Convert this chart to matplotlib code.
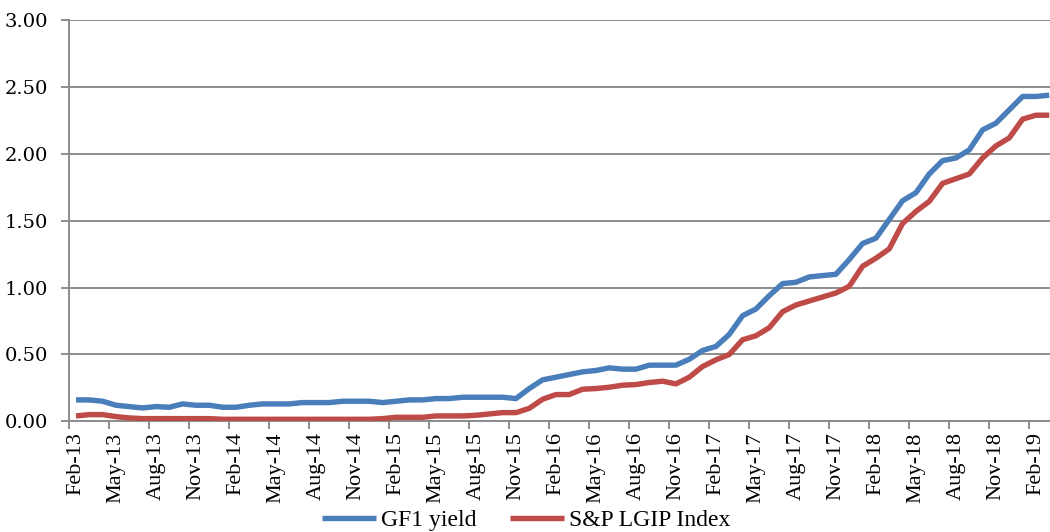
import matplotlib
matplotlib.use("Agg")
import matplotlib.pyplot as plt
import numpy as np
import pandas as pd

# Monthly categories Feb-13 .. Mar-19
months = pd.date_range("2013-02-01", "2019-03-01", freq="MS")
month_labels = [d.strftime("%b-%y") for d in months]

gf1_yield = [
    0.16, 0.16, 0.15, 0.12, 0.11, 0.10, 0.11, 0.105, 0.13, 0.12,
    0.12, 0.105, 0.105, 0.12, 0.13, 0.13, 0.13, 0.14, 0.14, 0.14,
    0.15, 0.15, 0.15, 0.14, 0.15, 0.16, 0.16, 0.17, 0.17, 0.18,
    0.18, 0.18, 0.18, 0.17, 0.245, 0.31, 0.33, 0.35, 0.37, 0.38,
    0.40, 0.39, 0.39, 0.42, 0.42, 0.42, 0.464, 0.53, 0.56, 0.65,
    0.79, 0.84, 0.94, 1.03, 1.04, 1.08, 1.09, 1.10, 1.21, 1.33,
    1.37, 1.51, 1.65, 1.71, 1.85, 1.95, 1.97, 2.03, 2.18, 2.23,
    2.33, 2.43, 2.43, 2.44,
]
lgip_index = [
    0.04, 0.05, 0.05, 0.035, 0.025, 0.02, 0.02, 0.02, 0.02, 0.02,
    0.02, 0.015, 0.015, 0.015, 0.015, 0.015, 0.015, 0.015, 0.015, 0.015,
    0.015, 0.015, 0.015, 0.02, 0.03, 0.03, 0.03, 0.04, 0.04, 0.04,
    0.045, 0.055, 0.065, 0.065, 0.097, 0.165, 0.20, 0.20, 0.24, 0.245,
    0.255, 0.27, 0.275, 0.29, 0.30, 0.28, 0.33, 0.41, 0.46, 0.50,
    0.61, 0.64, 0.70, 0.82, 0.87, 0.90, 0.93, 0.96, 1.01, 1.16,
    1.22, 1.29, 1.48, 1.57, 1.645, 1.78, 1.815, 1.85, 1.97, 2.06,
    2.12, 2.26, 2.29, 2.29,
]
y_ticks = [0.0, 0.5, 1.0, 1.5, 2.0, 2.5, 3.0]

W, H = 1050, 532
fig = plt.figure(figsize=(W / 100, H / 100), dpi=100)
left_px, right_px, top_px, bot_px = 69.3, 1055.9, 20.3, 421.3
ax = fig.add_axes([left_px / W, 1 - bot_px / H, (right_px - left_px) / W, (bot_px - top_px) / H])

x = np.arange(len(months))
blue = "#4A7EBB"
red = "#BE4B48"
ax.plot(x, gf1_yield, color=blue, lw=3.9, solid_capstyle="butt", solid_joinstyle="round", label="GF1 yield", zorder=3)
ax.plot(x, lgip_index, color=red, lw=3.9, solid_capstyle="butt", solid_joinstyle="round", label="S&P LGIP Index", zorder=3)

ax.set_xlim(-0.5, len(months) - 0.5)
ax.set_ylim(0, 3.0)

grid_c = "#8c8c8c"
ax.set_yticks(y_ticks)
ax.set_yticklabels([f"{v:.2f}" for v in y_ticks], family="DejaVu Serif", fontsize=14)
ax.yaxis.grid(True, color=grid_c, lw=1.4)
ax.set_axisbelow(True)

# major ticks at category boundaries every 3 months, labels centered on category
ax.set_xticks(np.arange(-0.5, len(months), 3))
ax.set_xticklabels([])
ax.set_xticks(x[::3], minor=True)
ax.set_xticklabels([month_labels[i] for i in x[::3]], minor=True, rotation=90,
                   family="Liberation Serif", fontsize=16)
ax.tick_params(axis="x", which="minor", length=0, pad=8)
ax.tick_params(axis="x", which="major", length=6, width=1.4, color=grid_c, direction="out")
ax.tick_params(axis="y", length=6, width=1.4, color=grid_c, pad=9, direction="out")

for s in ["top", "right"]:
    ax.spines[s].set_visible(False)
for s in ["left", "bottom"]:
    ax.spines[s].set_color(grid_c)
    ax.spines[s].set_linewidth(1.4)

leg = fig.legend(handles=ax.get_lines(), loc="center", bbox_to_anchor=(526 / W, 1 - 520 / H),
                 ncol=2, frameon=False, prop={"family": "Liberation Serif", "size": 17},
                 handlelength=2.3, handletextpad=0.2, columnspacing=1.4, borderpad=0)

fig.savefig("out.png", dpi=100)
